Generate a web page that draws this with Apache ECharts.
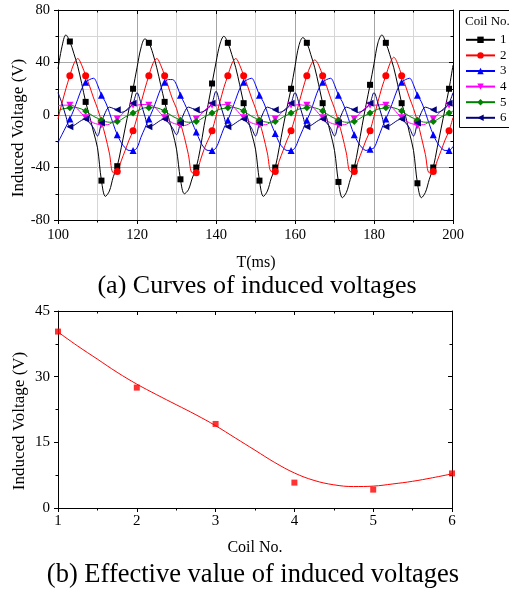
<!DOCTYPE html>
<html><head><meta charset="utf-8">
<script src="https://cdn.jsdelivr.net/npm/echarts@6/dist/echarts.min.js"></script>
<style>html,body{margin:0;padding:0;background:#fff}#c{width:509px;height:591px}</style>
</head><body><div id="c"></div>
<script>
// ---- Chart (a): induced voltage curves, sampled every 1 ms from 100 ms ----
const T_START = 100, T_STEP = 1;
const coil1 = [
 35, 52, 61, 56, 47, 37, 24, 10, -1, -13, -25, -50, -62, -58, -47, -39, -25, -10, 5, 20,
 36, 51, 58, 55, 47, 36, 23, 10, -2, -13, -26, -49, -60, -57, -48, -40, -26, -8, 8, 24,
 40, 54, 60, 55, 46, 36, 23, 9, -2, -14, -26, -50, -62, -58, -48, -40, -25, -9, 6, 20,
 37, 53, 59, 55, 46, 36, 23, 9, -2, -14, -27, -51, -63, -59, -49, -40, -25, -8, 8, 23,
 39, 55, 61, 55, 46, 36, 23, 9, -1, -14, -27, -52, -63, -59, -49, -40, -25, -10, 5, 20,
 38];
const coil2 = [
 -3, 9, 20, 30, 39, 43, 38, 30, 22, 13, 5, -5, -16, -29, -44, -43, -35, -27, -19, -12,
 -2, 9, 20, 30, 39, 43, 38, 30, 21, 12, 5, -6, -17, -30, -44, -44, -35, -26, -19, -12,
 -1, 10, 21, 30, 39, 43, 38, 30, 22, 13, 5, -5, -16, -29, -43, -43, -35, -27, -19, -12,
 -2, 9, 20, 30, 38, 42, 38, 30, 22, 13, 5, -5, -16, -29, -43, -43, -35, -27, -19, -12,
 -1, 10, 21, 30, 39, 44, 39, 30, 22, 13, 5, -5, -17, -30, -44, -43, -35, -27, -19, -12,
 -2];
const coil3 = [
 -21, -15, -9, -3, 4, 12, 20, 25, 27, 28, 23, 15, 10, 2, -7, -15, -21, -25, -27, -27,
 -25, -17, -10, -3, 4, 12, 20, 25, 27, 27, 23, 15, 9, 2, -6, -13, -20, -25, -27, -27,
 -25, -18, -10, -4, 4, 12, 20, 25, 27, 28, 23, 15, 10, 2, -7, -14, -21, -25, -27, -27,
 -25, -18, -11, -4, 3, 12, 20, 25, 27, 28, 23, 15, 10, 2, -7, -15, -21, -25, -27, -26,
 -25, -18, -10, -3, 4, 12, 20, 25, 27, 28, 23, 15, 10, 2, -7, -15, -21, -25, -27, -27,
 -24];
const coil4 = [
 7, 7.5, 7.5, 7.5, 7, 4.5, 1, -2, -4, -6, -7, -7.5, -7.5, -7, -5, -3, 0, 3, 6, 7.5,
 7.5, 8, 8, 7.5, 7, 4.5, 1, -2, -4, -6, -7, -7.5, -8, -7, -5, -3, 0, 3, 6, 7.5,
 7.5, 7.5, 8, 7.5, 7, 4.5, 1, -2, -4, -6, -7, -7.5, -7.5, -7, -5, -3, 0, 3, 6, 7.5,
 7.5, 8, 7.5, 7.5, 7, 4.5, 1, -2, -4, -6, -7, -7.5, -7.5, -7, -5, -3, 0, 3, 6, 7.5,
 7.5, 7.5, 8, 7.5, 7, 4.5, 1, -2, -4, -6, -7, -8, -7.5, -7, -5, -3, 0, 3, 6, 7.5,
 7.5];
const coil5 = [
 3, 4.5, 5, 5.5, 6, 5.5, 4.5, 3, 1, -1, -2.5, -4, -5, -5.5, -5.5, -5, -3.5, -1.5, 0, 1.5,
 3, 4.5, 5.5, 5.5, 6, 5.5, 4.5, 3, 1, -1, -2.5, -4, -5, -5.5, -5.5, -5, -3.5, -1.5, 0, 1.5,
 3, 4.5, 5, 5.5, 6, 5.5, 4.5, 3, 1, -1, -2.5, -4, -5, -5.5, -6, -5, -3.5, -1.5, 0, 1.5,
 3, 4.5, 5, 5.5, 6, 5.5, 4.5, 3, 1, -1, -2.5, -4, -5, -5.5, -5.5, -5, -3.5, -1.5, 0, 1.5,
 3, 4.5, 5, 5.5, 6, 5.5, 4.5, 3, 1, -1, -2.5, -4, -5, -5.5, -5.5, -5, -3.5, -1.5, 0, 1.5,
 3];
const coil6 = [
 17, 9, -1, -9, -8, -6, -4, -3, -6, -10, -16, -6, 2, 6, 5, 4, 2, 3, 5, 9,
 17, 9, -1, -9, -8, -6, -4, -3, -6, -10, -15, -6, 2, 6, 5, 4, 2, 3, 5, 9,
 18, 9, -1, -9, -8, -6, -4, -3, -6, -10, -16, -6, 2, 6, 5, 4, 2, 3, 5, 9,
 17, 9, -1, -9, -8, -6, -4, -3, -6, -10, -16, -6, 2, 6, 5, 4, 2, 3, 5, 9,
 17, 9, -1, -9, -8, -6, -4, -3, -6, -10, -16, -6, 2, 6, 5, 4, 2, 3, 5, 9,
 17];
const coilNames = ['1', '2', '3', '4', '5', '6'];
const markerEvery = 4, markerOffset = 3;   // markers at 103, 107, ... ms

// ---- Chart (b): effective values ----
const coilNo = [1, 2, 3, 4, 5, 6];
const effValue = [40.3, 27.5, 19.2, 5.8, 4.2, 7.9];
const fitX = [1, 1.25, 1.5, 1.75, 2, 2.25, 2.5, 2.75, 3, 3.25, 3.5, 3.75, 4, 4.25, 4.5, 4.75, 5, 5.25, 5.5, 5.75, 6];
const fitY = [40.2, 37.0, 34.0, 31.0, 28.3, 25.9, 23.6, 21.3, 18.8, 16.0, 13.2, 10.4, 8.0, 6.3, 5.3, 4.9, 5.0, 5.5, 6.1, 6.9, 7.8];

// ---- styles ----
const FONT = 'Liberation Serif';
const coilColors = ['#000000', '#ff0000', '#0000ff', '#ff00ff', '#008000', '#000080'];
const coilSymbols = ['rect', 'circle', 'triangle', 'triangle', 'diamond', 'triangle'];
const coilRotate = [0, 0, 0, 180, 0, 90];
const coilSymSize = [6, 7, 7, 7, 7, 7];

const chart = echarts.init(document.getElementById('c'), null, {renderer: 'canvas'});

function xAx(grid, min, max, interval, pos, fontSize, margin, split) {
  const main = pos === 'bottom';
  return {
    type: 'value', gridIndex: grid, position: pos, min: min, max: max, interval: interval,
    axisLine: {show: true, onZero: false, lineStyle: {color: '#000', width: 1}},
    axisTick: {show: true, inside: !main, length: 4, lineStyle: {color: '#000'}},
    minorTick: {show: true, splitNumber: 2, length: 2.5, lineStyle: {color: '#000'}},
    axisLabel: {show: main, color: '#000', fontFamily: FONT, fontSize: fontSize, margin: margin},
    splitLine: {show: split && main, lineStyle: {color: '#a6a6a6', width: 1}},
    minorSplitLine: {show: split && main, lineStyle: {color: '#d6d6d6', width: 1}}
  };
}
function yAx(grid, min, max, interval, pos, fontSize, margin, split) {
  const main = pos === 'left';
  return {
    type: 'value', gridIndex: grid, position: pos, min: min, max: max, interval: interval,
    axisLine: {show: true, onZero: false, lineStyle: {color: '#000', width: 1}},
    axisTick: {show: true, inside: !main, length: 4, lineStyle: {color: '#000'}},
    minorTick: {show: true, splitNumber: 2, length: 2.5, lineStyle: {color: '#000'}},
    axisLabel: {show: main, color: '#000', fontFamily: FONT, fontSize: fontSize, margin: margin},
    splitLine: {show: split && main, lineStyle: {color: '#a6a6a6', width: 1}},
    minorSplitLine: {show: split && main, lineStyle: {color: '#d6d6d6', width: 1}}
  };
}

const coils = [coil1, coil2, coil3, coil4, coil5, coil6];
const coilSeries = coils.map((vals, k) => ({
  type: 'line', name: coilNames[k], xAxisIndex: 0, yAxisIndex: 0,
  data: vals.map((v, i) => ({
    value: [T_START + i * T_STEP, v],
    symbol: (i % markerEvery === markerOffset) ? coilSymbols[k] : 'none'
  })),
  symbol: coilSymbols[k], symbolSize: coilSymSize[k], symbolRotate: coilRotate[k],
  showSymbol: true, showAllSymbol: true, smooth: 0.35,
  lineStyle: {color: coilColors[k], width: 1},
  itemStyle: {color: coilColors[k]},
  emphasis: {disabled: true}
}));

const option = {
  animation: false,
  backgroundColor: '#fff',
  grid: [
    {left: 58, top: 10, width: 395, height: 210},
    {left: 58, top: 311, width: 394, height: 197}
  ],
  xAxis: [
    xAx(0, 100, 200, 20, 'bottom', 14.5, 8, true),
    xAx(0, 100, 200, 20, 'top', 14.5, 8, true),
    xAx(1, 1, 6, 1, 'bottom', 15, 6, false),
    xAx(1, 1, 6, 1, 'top', 15, 6, false)
  ],
  yAxis: [
    yAx(0, -80, 80, 40, 'left', 14.5, 8, true),
    yAx(0, -80, 80, 40, 'right', 14.5, 8, true),
    yAx(1, 0, 45, 15, 'left', 15, 8, false),
    yAx(1, 0, 45, 15, 'right', 15, 8, false)
  ],
  legend: {
    data: coilNames, orient: 'vertical', left: 465, top: 32, padding: 0,
    itemWidth: 29, itemHeight: 8, itemGap: 0,
    textStyle: {fontFamily: FONT, fontSize: 13, color: '#000', lineHeight: 15.6},
    selectedMode: false
  },
  graphic: [
    {type: 'rect', z: 0, shape: {x: 459.5, y: 10.5, width: 70, height: 117}, style: {fill: '#fff', stroke: '#000', lineWidth: 1}},
    {type: 'text', z: 10, left: 465, top: 15, style: {text: 'Coil No.', font: '13px "Liberation Serif"', fill: '#000'}},
    {type: 'text', z: 10, x: 18.5, y: 128, rotation: Math.PI / 2,
      style: {text: 'Induced Voltage (V)', font: '17px "Liberation Serif"', fill: '#000', align: 'center', verticalAlign: 'middle'}},
    {type: 'text', z: 10, x: 256, y: 263,
      style: {text: 'T(ms)', font: '16px "Liberation Serif"', fill: '#000', align: 'center', verticalAlign: 'middle'}},
    {type: 'text', z: 10, x: 257, y: 286,
      style: {text: '(a) Curves of induced voltages', font: '26px "Liberation Serif"', fill: '#000', align: 'center', verticalAlign: 'middle'}},
    {type: 'text', z: 10, x: 20, y: 421, rotation: Math.PI / 2,
      style: {text: 'Induced Voltage (V)', font: '17px "Liberation Serif"', fill: '#000', align: 'center', verticalAlign: 'middle'}},
    {type: 'text', z: 10, x: 255, y: 547.5,
      style: {text: 'Coil No.', font: '16px "Liberation Serif"', fill: '#000', align: 'center', verticalAlign: 'middle'}},
    {type: 'text', z: 10, x: 253, y: 575,
      style: {text: '(b) Effective value of induced voltages', font: '26.5px "Liberation Serif"', fill: '#000', align: 'center', verticalAlign: 'middle'}}
  ],
  series: coilSeries.concat([
    {
      type: 'line', name: 'fit', xAxisIndex: 2, yAxisIndex: 2,
      data: fitX.map((x, i) => [x, fitY[i]]),
      smooth: 0.4, showSymbol: false, symbol: 'none',
      lineStyle: {color: '#ff0000', width: 1}, emphasis: {disabled: true}
    },
    {
      type: 'scatter', name: 'eff', xAxisIndex: 2, yAxisIndex: 2,
      data: coilNo.map((c, i) => [c, effValue[i]]),
      symbol: 'rect', symbolSize: 6, itemStyle: {color: '#ff0000'}, emphasis: {disabled: true}
    }
  ])
};
chart.setOption(option);
</script>
</body></html>
